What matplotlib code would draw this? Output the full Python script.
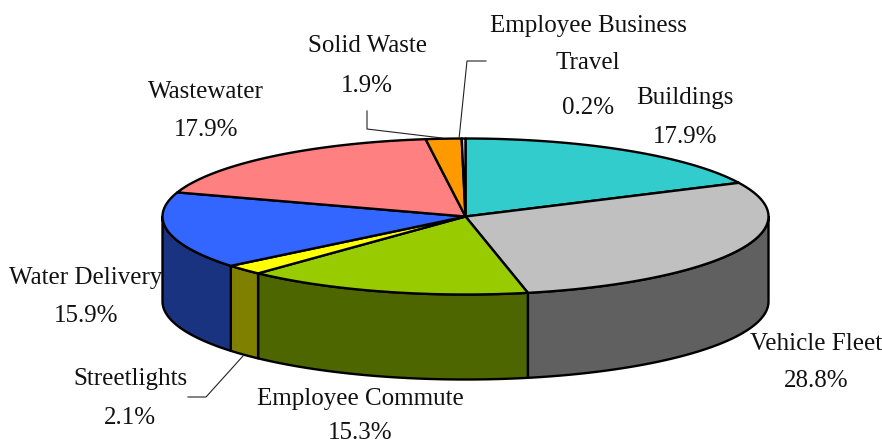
import numpy as np
import matplotlib
matplotlib.use("Agg")
import matplotlib.pyplot as plt
from matplotlib.patches import Polygon

plt.rcParams['font.family'] = ['Liberation Serif', 'DejaVu Serif']

labels = ["Buildings", "Vehicle Fleet", "Employee Commute", "Streetlights",
          "Water Delivery", "Wastewater", "Solid Waste", "Employee Business\nTravel"]
values = [17.9, 28.8, 15.3, 2.1, 15.9, 17.9, 1.9, 0.2]
top_colors = ["#33CCCC", "#C0C0C0", "#99CC00", "#FFFF00",
              "#3366FF", "#FF8080", "#FF9900", "#CCCCFF"]
side_colors = ["#1A6666", "#606060", "#4D6600", "#808000",
               "#1A3380", "#804040", "#804D00", "#666680"]

# label centre x and the y of each text line, in pixels
label_x = [685, 816, 360, 130, 86, 206, 367, 588]
label_y = [(97.5, 136.5), (343.5, 380.5), (399, 433), (378.5, 417.5),
           (277.5, 315.5), (91.5, 129.5), (45.5, 85.5), (26, 63, 108)]

cx, cy, rx, ry, depth = 465.5, 216.5, 303, 78, 85

fig = plt.figure(figsize=(8.82, 4.44), dpi=100)
ax = fig.add_axes([0, 0, 1, 1])
ax.set_xlim(0, 882)
ax.set_ylim(444, 0)
ax.axis("off")


def rim(t):
    return cx + rx * np.sin(t), cy - ry * np.cos(t)


edges = np.cumsum([0] + values) / sum(values) * 2 * np.pi

# sides, only the part of the rim facing front
for i in range(len(values)):
    a = max(edges[i], np.pi / 2)
    b = min(edges[i + 1], 3 * np.pi / 2)
    if b <= a:
        continue
    t = np.linspace(a, b, 80)
    x, y = rim(t)
    pts = np.r_[np.c_[x, y], np.c_[x[::-1], y[::-1] + depth]]
    ax.add_patch(Polygon(pts, closed=True, fc=side_colors[i], ec="black", lw=1.7,
                         joinstyle="round", zorder=2))

# top faces
for i in range(len(values)):
    t = np.linspace(edges[i], edges[i + 1], 80)
    x, y = rim(t)
    pts = np.r_[[[cx, cy]], np.c_[x, y]]
    ax.add_patch(Polygon(pts, closed=True, fc=top_colors[i], ec="black", lw=1.7,
                         joinstyle="round", zorder=3))

# leader lines
leader_kw = dict(color="#222222", lw=0.8, zorder=4)
ax.plot([367, 367, 442], [111, 129, 138], **leader_kw)
ax.plot([486, 467, 459], [61, 61, 139], **leader_kw)
ax.plot([188, 206, 243], [397, 397, 356], **leader_kw)

# every line is its own text so the lines can keep the picture's spacing
for name, v, lx, ys in zip(labels, values, label_x, label_y):
    lines = name.split("\n") + [f"{v:.1f}%"]
    for line, ly in zip(lines, ys):
        ax.text(lx, ly, line, ha="center", va="center", fontsize=18,
                color="#111111", zorder=5)

fig.savefig("out.png", dpi=100)
